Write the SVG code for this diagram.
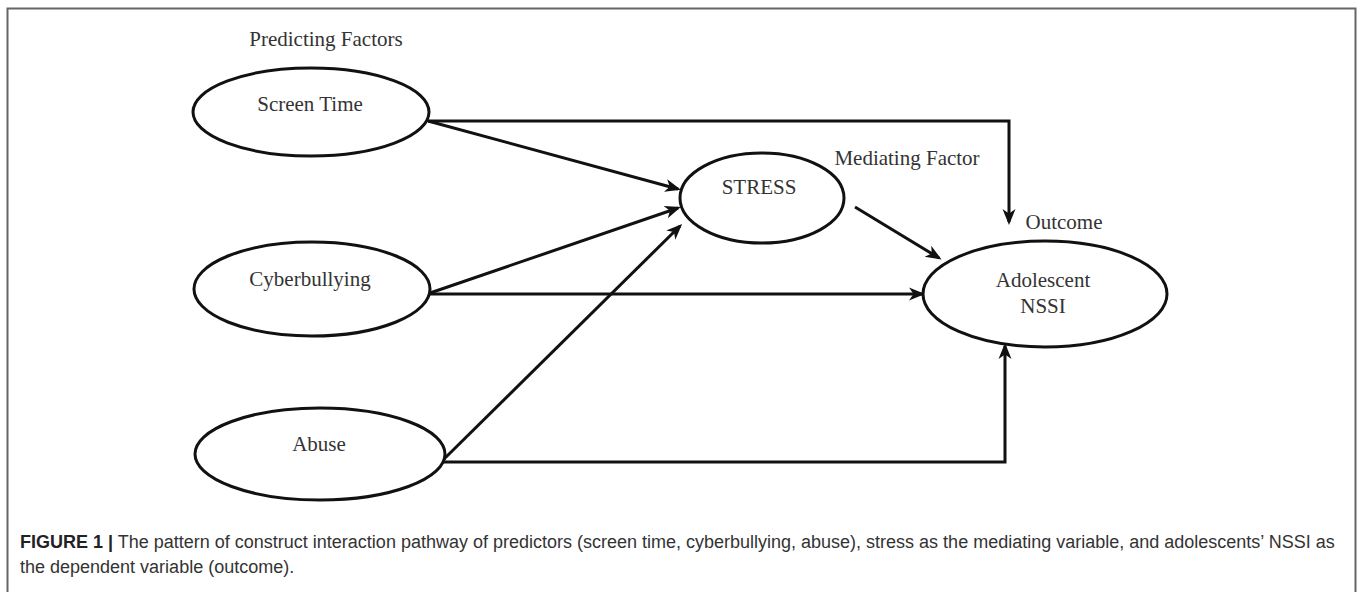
<svg xmlns="http://www.w3.org/2000/svg" width="1358" height="592" viewBox="0 0 1358 592">
<style>
.node ellipse{fill:#fff;stroke:#111;stroke-width:3}
.lbl{font-family:"Liberation Serif","Times New Roman",serif;font-size:21px;fill:#333;text-anchor:middle}
.conn path{fill:none;stroke:#111;stroke-width:3}
.cap{font-family:"Liberation Sans",Arial,sans-serif;font-size:18px;fill:#333}
</style>
<defs>
<marker id="ah" viewBox="0 0 16 16" refX="13" refY="8" markerWidth="16" markerHeight="16" markerUnits="userSpaceOnUse" orient="auto">
<path d="M0,1.5 L16,8 L0,14.5 L4.5,8 z" fill="#111"/>
</marker>
</defs>
<rect width="1358" height="592" fill="#fff"/>
<path d="M7.5,592 V8.5 H1355.5 V592" fill="none" stroke="#666" stroke-width="2"/>

<text class="lbl" x="326" y="46">Predicting Factors</text>
<text class="lbl" x="907" y="165">Mediating Factor</text>
<text class="lbl" x="1064" y="229">Outcome</text>

<g class="conn">
<path d="M428,121 H1009 V222" marker-end="url(#ah)"/>
<path d="M428,121 L678,189" marker-end="url(#ah)"/>
<path d="M430,293 L678,208" marker-end="url(#ah)"/>
<path d="M443,460 L680,226" marker-end="url(#ah)"/>
<path d="M430,294 H922" marker-end="url(#ah)"/>
<path d="M855,207 L939,258" marker-end="url(#ah)"/>
<path d="M443,462 H1005 V346" marker-end="url(#ah)"/>
</g>

<g id="screen-time" class="node">
<ellipse cx="311" cy="112" rx="118" ry="44"/>
<text class="lbl" x="310" y="111">Screen Time</text>
</g>
<g id="cyberbullying" class="node">
<ellipse cx="312" cy="289" rx="118" ry="47"/>
<text class="lbl" x="310" y="286">Cyberbullying</text>
</g>
<g id="abuse" class="node">
<ellipse cx="320" cy="454" rx="125" ry="46"/>
<text class="lbl" x="319" y="451">Abuse</text>
</g>
<g id="stress" class="node">
<ellipse cx="762" cy="198" rx="82" ry="45"/>
<text class="lbl" x="759" y="194">STRESS</text>
</g>
<g id="adolescent-nssi" class="node">
<ellipse cx="1045" cy="294" rx="122" ry="53"/>
<text class="lbl" x="1043" y="287">Adolescent</text>
<text class="lbl" x="1043" y="313">NSSI</text>
</g>

<text class="cap" x="20" y="548"><tspan font-weight="bold" fill="#222">FIGURE 1 |</tspan> The pattern of construct interaction pathway of predictors (screen time, cyberbullying, abuse), stress as the mediating variable, and adolescents’ NSSI as</text>
<text class="cap" x="20" y="573">the dependent variable (outcome).</text>
</svg>
